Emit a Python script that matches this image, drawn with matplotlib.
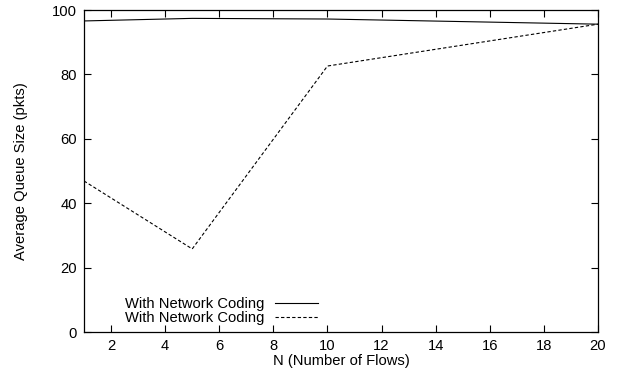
import matplotlib
matplotlib.use("Agg")
import matplotlib.pyplot as plt

plt.rcParams['font.family'] = ['Liberation Sans', 'DejaVu Sans']

flows = [1, 5, 10, 20]
queue_solid = [96.6, 97.4, 97.2, 95.6]
queue_dashed = [46.9, 25.8, 82.6, 95.6]
series_labels = ["With Network Coding", "With Network Coding"]
x_ticks = [2, 4, 6, 8, 10, 12, 14, 16, 18, 20]
y_ticks = [0, 20, 40, 60, 80, 100]

FS = 10.6

fig = plt.figure(figsize=(6.21, 3.77), dpi=100)
ax = fig.add_axes([84/621, 45/377, (598-84)/621, (332-10)/377])

ax.plot(flows, queue_solid, color='black', linewidth=0.8, linestyle='-', label=series_labels[0])
ax.plot(flows, queue_dashed, color='black', linewidth=0.8, linestyle=(0, (3, 2)), label=series_labels[1])

ax.set_xlim(1, 20)
ax.set_ylim(0, 100)
ax.set_xticks(x_ticks)
ax.set_yticks(y_ticks)
ax.tick_params(direction='in', top=True, right=True, length=5, width=0.8, labelsize=FS, pad=5)
for s in ax.spines.values():
    s.set_linewidth(0.9)

ax.set_xlabel("N (Number of Flows)", fontsize=FS, labelpad=1)
ax.set_ylabel("Average Queue Size (pkts)", fontsize=FS, labelpad=17)

leg = ax.legend(loc='lower left', bbox_to_anchor=(0.06, -0.01), frameon=False, markerfirst=False,
                fontsize=FS, handlelength=2.9, handletextpad=0.7, labelspacing=0.0, borderaxespad=0.3)
for t in leg.get_texts():
    t.set_ha('right')

fig.savefig("out.png", dpi=100)
